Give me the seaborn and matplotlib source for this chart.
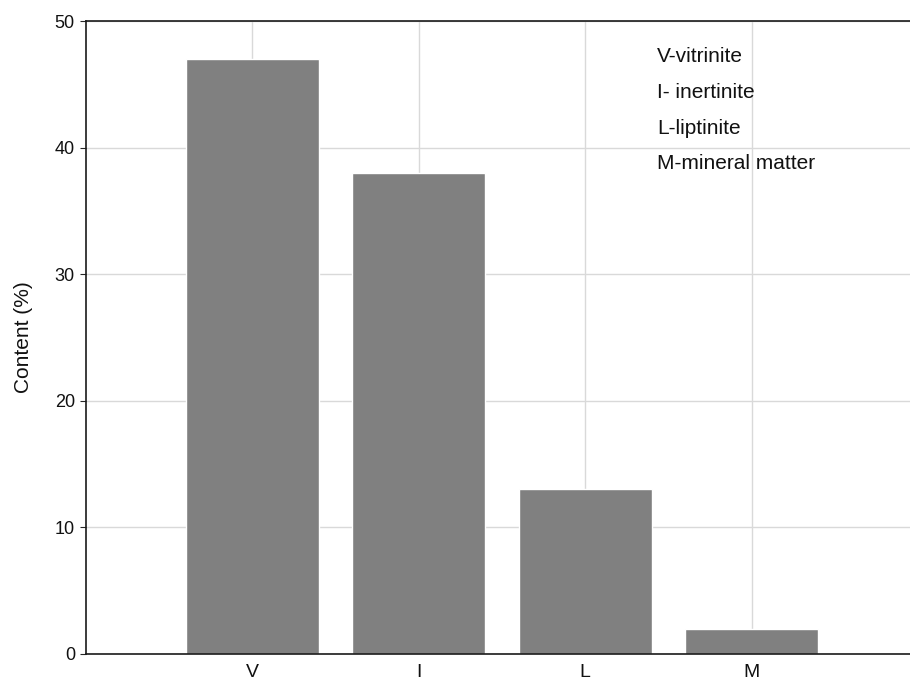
import pandas as pd
import seaborn as sns
from matplotlib import pyplot as plt

# maceral composition
components = ['V', 'I', 'L', 'M']
content = [47, 38, 13, 2]
legend_lines = ['V-vitrinite', 'I- inertinite', 'L-liptinite', 'M-mineral matter']

df = pd.DataFrame({'component': components, 'content': content})

sns.set_style('white')
plt.rcParams['font.family'] = ['Liberation Sans', 'DejaVu Sans']

fig = plt.figure(figsize=(9.1, 6.84), dpi=100)
ax = fig.add_axes([86 / 910, 30 / 684, 832 / 910, 633 / 684])
ax.set_axisbelow(True)

sns.barplot(data=df, x='component', y='content', color='#808080', saturation=1,
            width=0.8, ax=ax)

ax.set_xlim(-1, 4)
ax.set_ylim(0, 50)
ax.set_yticks(range(0, 51, 10))
ax.grid(True, color='#d9d9d9', linewidth=1)
ax.set_xlabel('')
ax.set_ylabel('Content (%)', fontsize=15, labelpad=16, color='#111111')
ax.tick_params(axis='x', direction='in', length=4, labelsize=14, pad=7,
               color='#222222', labelcolor='#111111')
ax.tick_params(axis='y', direction='out', length=4, labelsize=13, pad=4,
               left=True, labelcolor='#111111')

for side in ['left', 'bottom', 'top']:
    ax.spines[side].set_color('#1a1a1a')
    ax.spines[side].set_linewidth(1.2)
ax.spines['right'].set_visible(False)

# legend-like notes, placed in pixel coords from the top-left corner
for i, line in enumerate(legend_lines):
    ax.text(657, 684 - (57 + i * 35.5), line, transform=None, fontsize=15,
            va='center', ha='left', color='#111111')

plt.savefig('out.png', dpi=100)
